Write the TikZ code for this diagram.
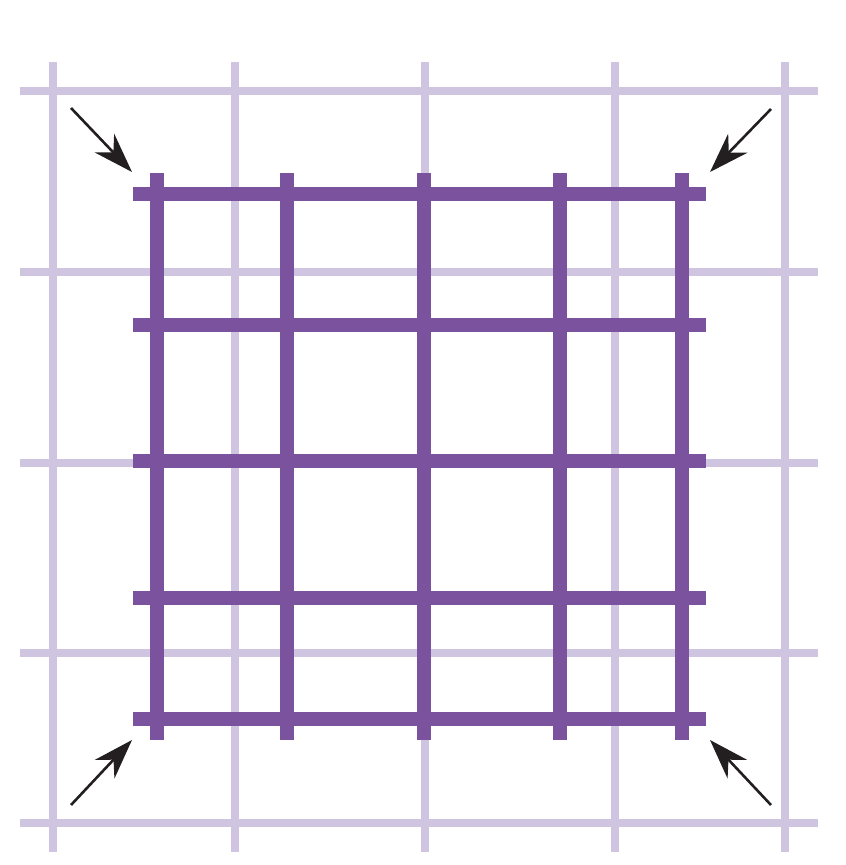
\documentclass[tikz,border=0pt]{standalone}
\usetikzlibrary{arrows.meta}
\definecolor{lightgrid}{HTML}{CFC5E1}
\definecolor{darkgrid}{HTML}{7B529E}
\definecolor{arrowcol}{HTML}{231F20}
\begin{document}
\begin{tikzpicture}[x=1pt,y=-1pt,
  lightline/.style={draw=lightgrid,line width=8pt},
  darkline/.style={draw=darkgrid,line width=14pt},
  pointer/.style={draw=arrowcol,line width=2.6pt,-{Stealth[length=40pt,width=27pt,inset=13pt]}}]
\useasboundingbox (0,0) rectangle (846,865);
% light background grid
\foreach \x in {53,235,425,615,785} \draw[lightline] (\x,62) -- (\x,852);
\foreach \y in {91,272,463,653,823} \draw[lightline] (20,\y) -- (818,\y);
% dark grid
\foreach \x in {157,287,424,560,682} \draw[darkline] (\x,173) -- (\x,740);
\foreach \y in {194,325,461,598,719} \draw[darkline] (133,\y) -- (706,\y);
% arrows
\coordinate (tlA) at (71,108);  \coordinate (tlB) at (132,172);
\coordinate (trA) at (771,109); \coordinate (trB) at (710,172);
\coordinate (blA) at (71,805);  \coordinate (blB) at (132,740);
\coordinate (brA) at (771,805); \coordinate (brB) at (710,740);
\draw[pointer] (tlA) -- (tlB);
\draw[pointer] (trA) -- (trB);
\draw[pointer] (blA) -- (blB);
\draw[pointer] (brA) -- (brB);
\end{tikzpicture}
\end{document}
